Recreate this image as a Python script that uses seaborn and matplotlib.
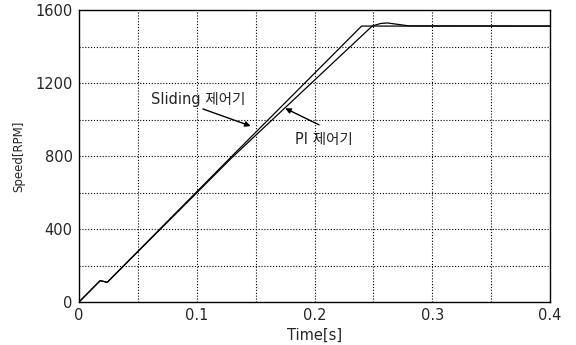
import numpy as np
import pandas as pd
import matplotlib
matplotlib.use("Agg")
import matplotlib.pyplot as plt
import seaborn as sns

# --- data ---
t_sliding = [0.0, 0.018, 0.024, 0.130, 0.240, 0.400]
v_sliding = [0, 117, 108, 800, 1512, 1512]

t_pi = [0.0, 0.018, 0.024, 0.130, 0.249, 0.256, 0.262, 0.270, 0.280, 0.400]
v_pi = [0, 117, 108, 792, 1512, 1526, 1529, 1522, 1513, 1512]

x_ticks = [0, 0.1, 0.2, 0.3, 0.4]
x_tick_labels = ["0", "0.1", "0.2", "0.3", "0.4"]
y_ticks = [0, 400, 800, 1200, 1600]
y_tick_labels = ["0", "400", "800", "1200", "1600"]

x_label = "Time[s]"
y_label = "Speed[RPM]"
label_sliding = "Sliding 제어기"
label_pi = "PI 제어기"

sns.set_style("white")
plt.rcParams["font.family"] = ["DejaVu Sans"]

fig = plt.figure(figsize=(5.76, 3.45), dpi=100)
ax = fig.add_axes([79 / 576, 1 - 302 / 345, (550 - 79) / 576, (302 - 10) / 345])

df_s = pd.DataFrame({"t": t_sliding, "v": v_sliding})
df_p = pd.DataFrame({"t": t_pi, "v": v_pi})
sns.lineplot(data=df_s, x="t", y="v", ax=ax, color="black", lw=0.9, sort=False)
sns.lineplot(data=df_p, x="t", y="v", ax=ax, color="black", lw=0.9, sort=False)

ax.set_xlim(0, 0.4)
ax.set_ylim(0, 1600)

# dotted grid every 0.05 s and 200 RPM
for gx in np.arange(0.05, 0.4, 0.05):
    ax.axvline(gx, color="black", lw=0.8, ls=(0, (1, 1.6)), zorder=0)
for gy in np.arange(200, 1600, 200):
    ax.axhline(gy, color="black", lw=0.8, ls=(0, (1, 1.6)), zorder=0)

ax.set_xticks(x_ticks)
ax.set_xticklabels(x_tick_labels)
ax.set_yticks(y_ticks)
ax.set_yticklabels(y_tick_labels)
ax.tick_params(axis="both", direction="out", length=3, width=0.8, labelsize=10.5, pad=1.5, color="black")

for sp in ax.spines.values():
    sp.set_color("black")
    sp.set_linewidth(1.0)

ax.set_xlabel(x_label, fontsize=10.5, labelpad=3)
ax.set_ylabel(y_label, fontsize=8.5, labelpad=7)

kfont = ["DejaVu Sans", "Noto Sans CJK KR"]
ax.text(0.101, 1107, label_sliding, ha="center", va="center", fontsize=10.5, family=kfont)
ax.annotate("", xy=(0.148, 959), xytext=(0.103, 1063),
            arrowprops=dict(arrowstyle="-|>", color="black", lw=1.0, mutation_scale=8))
ax.text(0.208, 893, label_pi, ha="center", va="center", fontsize=10.5, family=kfont)
ax.annotate("", xy=(0.173, 1068), xytext=(0.206, 964),
            arrowprops=dict(arrowstyle="-|>", color="black", lw=1.0, mutation_scale=8))

fig.savefig("out.png", dpi=100)
